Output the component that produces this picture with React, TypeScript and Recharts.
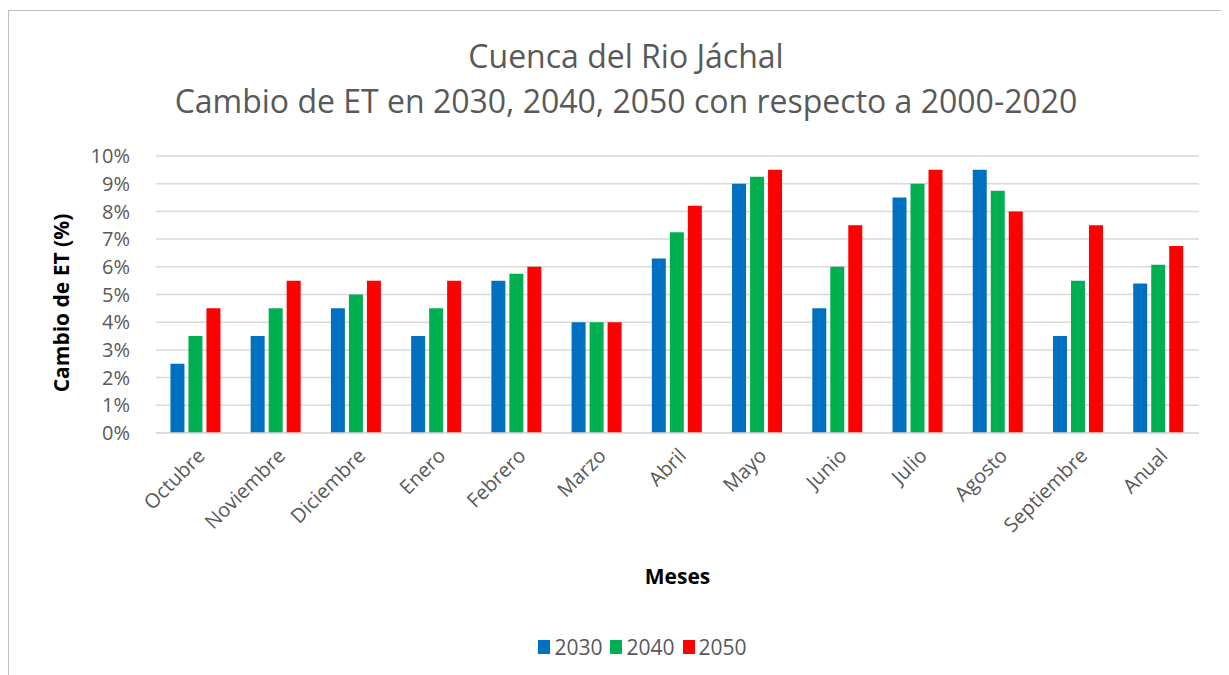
import { BarChart, Bar, XAxis, YAxis, CartesianGrid } from 'recharts';

const FONT = '"Open Sans", "Noto Sans", sans-serif';
const TEXT = '#595959';
const GRID = '#d9d9d9';

const MESES = [
  'Octubre', 'Noviembre', 'Diciembre', 'Enero', 'Febrero', 'Marzo', 'Abril',
  'Mayo', 'Junio', 'Julio', 'Agosto', 'Septiembre', 'Anual'
];

// cambio de ET en % por periodo
const ET_2030 = [2.5, 3.5, 4.5, 3.5, 5.5, 4.0, 6.3, 9.0, 4.5, 8.5, 9.5, 3.5, 5.4];
const ET_2040 = [3.5, 4.5, 5.0, 4.5, 5.75, 4.0, 7.25, 9.25, 6.0, 9.0, 8.75, 5.5, 6.07];
const ET_2050 = [4.5, 5.5, 5.5, 5.5, 6.0, 4.0, 8.2, 9.5, 7.5, 9.5, 8.0, 7.5, 6.75];

const Y_TICKS = [0, 1, 2, 3, 4, 5, 6, 7, 8, 9, 10];

const SERIES = [
  { key: 'y2030', name: '2030', color: '#0070C0' },
  { key: 'y2040', name: '2040', color: '#00B050' },
  { key: 'y2050', name: '2050', color: '#FF0000' }
];

const data = MESES.map((mes, i) => ({
  mes,
  y2030: ET_2030[i],
  y2040: ET_2040[i],
  y2050: ET_2050[i]
}));

export default function App() {
  return (
    <div
      style={{
        position: 'relative',
        width: 1221,
        height: 665,
        marginTop: 2,
        borderLeft: '1px solid #bfbfbf',
        borderTop: '1px solid #bfbfbf',
        fontFamily: FONT,
        boxSizing: 'border-box'
      }}
    >
      <div style={{ position: 'absolute', left: 0, width: 1234, top: 22, textAlign: 'center', fontSize: 32, color: TEXT, lineHeight: '45px' }}>
        <div>Cuenca del Rio Jáchal</div>
        <div>Cambio de ET en 2030, 2040, 2050 con respecto a 2000-2020</div>
      </div>

      <div
        style={{
          position: 'absolute',
          left: 52,
          top: 292,
          transform: 'translate(-50%, -50%) rotate(-90deg)',
          whiteSpace: 'nowrap',
          fontWeight: 700,
          fontSize: 21,
          color: '#000'
        }}
      >
        Cambio de ET (%)
      </div>

      <div style={{ position: 'absolute', left: 0, top: 0 }}>
        <BarChart
          width={1221}
          height={665}
          data={data}
          margin={{ top: 145, right: 31, left: 0, bottom: 83 }}
          barCategoryGap="18%"
          barGap={4}
        >
          <CartesianGrid vertical={false} stroke={GRID} strokeWidth={1.5} />
          <XAxis
            dataKey="mes"
            height={160}
            interval={0}
            axisLine={{ stroke: GRID, strokeWidth: 1.5 }}
            tickLine={false}
            tickSize={0}
            tickMargin={14}
            tick={{ fill: TEXT, fontSize: 20, angle: -45, textAnchor: 'end', fontFamily: FONT }}
            label={{ value: 'Meses', position: 'insideBottom', offset: 9, fill: '#000', fontSize: 21, fontWeight: 700, fontFamily: FONT }}
          />
          <YAxis
            width={147}
            domain={[0, 10]}
            ticks={Y_TICKS}
            interval={0}
            axisLine={false}
            tickLine={false}
            tickSize={0}
            tickMargin={26}
            tickFormatter={(v) => `${v}%`}
            tick={{ fill: TEXT, fontSize: 20, fontFamily: FONT }}
          />
          {SERIES.map((s) => (
            <Bar key={s.key} dataKey={s.key} name={s.name} fill={s.color} isAnimationActive={false} />
          ))}
        </BarChart>
      </div>

      <div
        style={{
          position: 'absolute',
          left: 0,
          width: 1275,
          top: 622,
          display: 'flex',
          justifyContent: 'center',
          alignItems: 'center',
          fontSize: 21,
          color: TEXT
        }}
      >
        {SERIES.map((s) => (
          <div key={s.key} style={{ display: 'flex', alignItems: 'center', marginRight: 8 }}>
            <span style={{ display: 'inline-block', width: 12, height: 14, background: s.color, marginRight: 4 }} />
            <span>{s.name}</span>
          </div>
        ))}
      </div>
    </div>
  );
}
